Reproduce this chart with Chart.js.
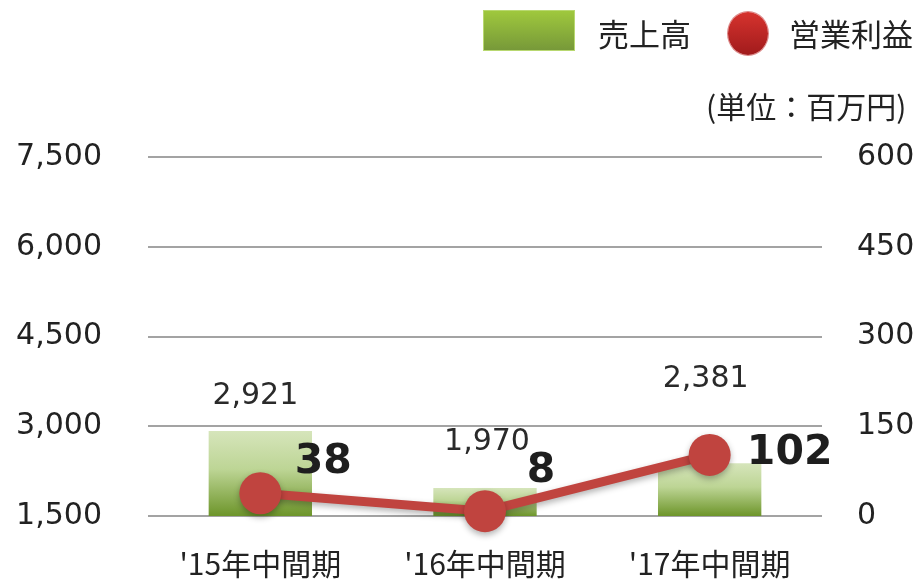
<!DOCTYPE html>
<html>
<head>
<meta charset="utf-8">
<script src="https://cdn.jsdelivr.net/npm/chart.js@4"></script>
<style>
  html, body { margin: 0; padding: 0; background: #fff; }
  #wrap { position: relative; width: 921px; height: 580px; overflow: hidden; }
  #wrap canvas { position: absolute; left: 0; top: 0; }
  .jp { font-family: "Noto Sans CJK JP", "DejaVu Sans", sans-serif; color: #222; position: absolute; white-space: nowrap; }
  #lg-bar { position: absolute; left: 483px; top: 10px; width: 90px; height: 39px;
            background: linear-gradient(#9fc83d, #779939); border: 1px solid #b8d870; }
  #lg-dot { position: absolute; left: 728px; top: 12px; width: 40px; height: 43px; border-radius: 50%;
            background: linear-gradient(#d6332e, #a11b1c); box-shadow: 0 0 0 1px #d88; }
</style>
</head>
<body>
<div id="wrap">
  <canvas id="sales_chart" width="921" height="580"></canvas>
  <div id="lg-bar"></div>
  <div class="jp" style="left:598px; top:10px; font-size:31px;">売上高</div>
  <div id="lg-dot"></div>
  <div class="jp" style="left:789px; top:10px; font-size:31px;">営業利益</div>
  <div class="jp" style="left:706px; top:83px; font-size:30px;">(単位：百万円)</div>
</div>
<script>
var categories = ["'15年中間期", "'16年中間期", "'17年中間期"]
var salesValues = [2921, 1970, 2381]        // 売上高
var profitValues = [38, 8, 102]             // 営業利益
var leftTicks = [1500, 3000, 4500, 6000, 7500]
var rightTicks = [0, 150, 300, 450, 600]

var tickFont = { family: "'DejaVu Sans', Verdana, sans-serif", size: 30 }
var catFont = { family: "'Noto Sans CJK JP', 'DejaVu Sans', sans-serif", size: 30 }

function fmt(v) { return v.toLocaleString('en-US') }

// bar value labels (regular) and profit labels (bold)
var barLabelOffsets = [[-5, -35], [2, -46], [-4, -84]]
var dotLabelOffsets = [[63, -31], [56, -40], [80, -2]]

var valueLabels = {
    id: 'valueLabels',
    afterDatasetsDraw: function(chart) {
        var ctx = chart.ctx
        ctx.save()
        ctx.textAlign = 'center'
        ctx.textBaseline = 'middle'
        ctx.fillStyle = '#2a2a2a'
        ctx.font = "30px 'DejaVu Sans', Verdana, sans-serif"
        chart.getDatasetMeta(0).data.forEach(function(el, i) {
            ctx.fillText(fmt(salesValues[i]), el.x + barLabelOffsets[i][0], el.y + barLabelOffsets[i][1])
        })
        ctx.fillStyle = '#1e1e1e'
        ctx.font = "bold 41px 'DejaVu Sans', Verdana, sans-serif"
        chart.getDatasetMeta(1).data.forEach(function(el, i) {
            ctx.fillText(fmt(profitValues[i]), el.x + dotLabelOffsets[i][0], el.y + dotLabelOffsets[i][1])
        })
        ctx.restore()
    }
}

var shadow = {
    id: 'shadow',
    beforeDatasetDraw: function(chart, args) {
        if (args.index === 1) {
            chart.ctx.save()
            chart.ctx.shadowColor = 'rgba(0,0,0,0.3)'
            chart.ctx.shadowBlur = 6
            chart.ctx.shadowOffsetY = 3
        }
    },
    afterDatasetDraw: function(chart, args) {
        if (args.index === 1) chart.ctx.restore()
    }
}

function barGradient(context) {
    var chart = context.chart
    var ys = chart.scales.y
    if (!chart.chartArea || !ys) return '#a5c46a'
    var top = ys.getPixelForValue(salesValues[context.dataIndex])
    var bottom = ys.getPixelForValue(ys.min)
    if (!isFinite(top) || !isFinite(bottom) || top === bottom) return '#a5c46a'
    var g = chart.ctx.createLinearGradient(0, top, 0, bottom)
    g.addColorStop(0, '#d6e5bb')
    g.addColorStop(0.45, '#bdd595')
    g.addColorStop(1, '#6d952a')
    return g
}

var ctx = document.getElementById('sales_chart')
var chartMix = new Chart(ctx, {
    data: {
        labels: categories,
        datasets: [
            {
                type: 'bar',
                label: '売上高',
                data: salesValues,
                yAxisID: 'y',
                order: 2,
                backgroundColor: barGradient,
                borderWidth: 0,
                barPercentage: 0.92,
                categoryPercentage: 0.5
            },
            {
                type: 'line',
                label: '営業利益',
                data: profitValues,
                yAxisID: 'y1',
                order: 1,
                clip: false,
                borderColor: '#c0443f',
                backgroundColor: '#c0443f',
                borderWidth: 9,
                pointRadius: 21,
                pointHoverRadius: 21,
                pointBorderWidth: 0,
                tension: 0
            }
        ]
    },
    plugins: [valueLabels, shadow],
    options: {
        responsive: false,
        animation: false,
        layout: { padding: { top: 157, left: 0, right: 0, bottom: 0 } },
        plugins: {
            legend: { display: false },
            tooltip: { enabled: false }
        },
        scales: {
            x: {
                grid: { display: false },
                border: { display: false },
                ticks: { font: catFont, color: '#222', padding: 22, maxRotation: 0 },
                afterFit: function(scale) { scale.height = 64 }
            },
            y: {
                position: 'left',
                min: 1500,
                max: 7500,
                afterBuildTicks: function(scale) { scale.ticks = leftTicks.map(function(v) { return { value: v } }) },
                ticks: { font: tickFont, color: '#222', padding: 46, callback: function(v) { return fmt(v) } },
                grid: { color: '#a3a3a3', lineWidth: 2, drawTicks: false },
                border: { display: false },
                afterFit: function(scale) { scale.width = 148 }
            },
            y1: {
                position: 'right',
                min: 0,
                max: 600,
                afterBuildTicks: function(scale) { scale.ticks = rightTicks.map(function(v) { return { value: v } }) },
                ticks: { font: tickFont, color: '#222', padding: 35 },
                grid: { display: false, drawTicks: false },
                border: { display: false },
                afterFit: function(scale) { scale.width = 99 }
            }
        }
    }
})
</script>
</body>
</html>
